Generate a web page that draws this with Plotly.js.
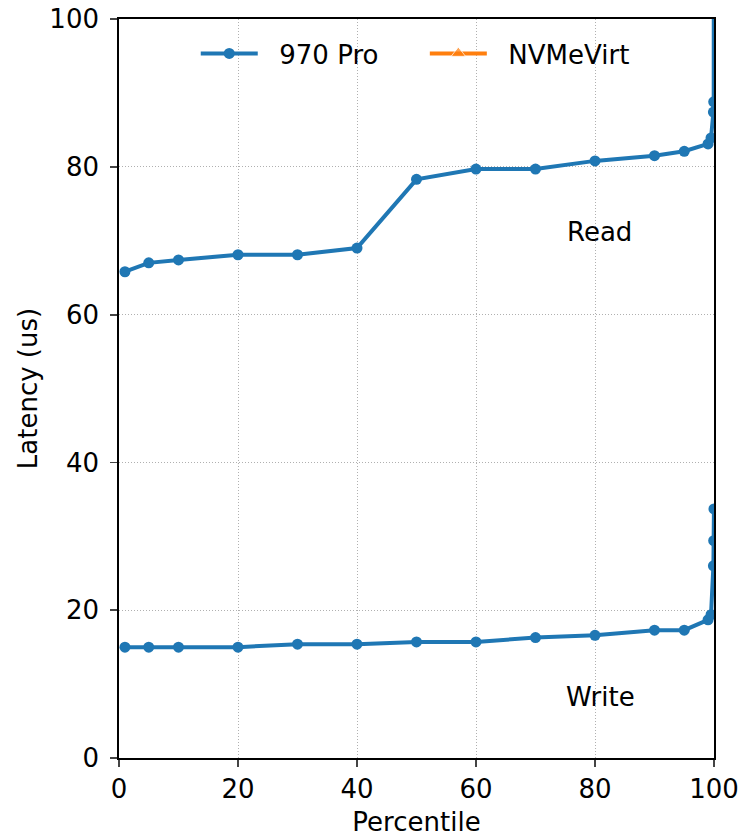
<!DOCTYPE html>
<html>
<head>
<meta charset="utf-8">
<script src="https://cdn.plot.ly/plotly-3.0.1.min.js"></script>
<style>html,body{margin:0;padding:0;background:#fff;}#chart{width:741px;height:837px;}</style>
</head>
<body>
<div id="chart"></div>
<script>
const percentiles = [1, 5, 10, 20, 30, 40, 50, 60, 70, 80, 90, 95, 99, 99.5, 99.9, 99.95, 99.99];
const readPro = [65.8, 67.0, 67.4, 68.1, 68.1, 69.0, 78.3, 79.7, 79.7, 80.8, 81.5, 82.1, 83.1, 83.9, 87.4, 88.8, 130];
const writePro = [15.0, 15.0, 15.0, 15.0, 15.4, 15.4, 15.7, 15.7, 16.3, 16.6, 17.3, 17.3, 18.7, 19.4, 26.0, 29.4, 33.7];
const nvmevirt = [];
const seriesNames = ["970 Pro", "NVMeVirt"];
const labels = {read: "Read", write: "Write"};

const blue = "#1f77b4", orange = "#ff7f0e";
const font = "DejaVu Sans, sans-serif";
const fs = 26;
const pad = "\u00a0\u00a0";

const traces = [
  {x: percentiles, y: readPro, mode: "lines+markers", name: pad + seriesNames[0], legend: "legend",
   line: {color: blue, width: 4}, marker: {color: blue, size: 11, symbol: "circle"}, cliponaxis: true},
  {x: percentiles, y: writePro, mode: "lines+markers", name: seriesNames[0], showlegend: false,
   line: {color: blue, width: 4}, marker: {color: blue, size: 11, symbol: "circle"}, cliponaxis: true},
  {x: nvmevirt.length ? percentiles : [percentiles[0]], y: nvmevirt.length ? nvmevirt : [null], mode: "lines+markers",
   name: pad + seriesNames[1], legend: "legend2",
   line: {color: orange, width: 4}, marker: {color: orange, size: [13], symbol: "triangle-up"}}
];

const legendBase = {orientation: "h", y: 0.985, yanchor: "top", xanchor: "left",
  bgcolor: "rgba(0,0,0,0)", font: {family: font, size: fs}, itemwidth: 57};

const layout = {
  width: 741, height: 837,
  margin: {l: 119, r: 27, t: 19, b: 79},
  paper_bgcolor: "#fff", plot_bgcolor: "#fff",
  font: {family: font, size: fs, color: "#000"},
  showlegend: true,
  legend: Object.assign({}, legendBase, {x: 0.129}),
  legend2: Object.assign({}, legendBase, {x: 0.514}),
  xaxis: {range: [0, 100], tickvals: [0, 20, 40, 60, 80, 100], ticks: "outside", ticklen: 7, tickwidth: 1.8,
          showline: true, linecolor: "#000", linewidth: 1.8, mirror: true,
          showgrid: true, gridcolor: "#b0b0b0", griddash: "1px,2px", gridwidth: 1, zeroline: false,
          tickfont: {size: fs}, title: {text: "Percentile", font: {size: fs}, standoff: 13}},
  yaxis: {range: [0, 100], tickvals: [0, 20, 40, 60, 80, 100], ticks: "outside", ticklen: 7, tickwidth: 1.8,
          showline: true, linecolor: "#000", linewidth: 1.8, mirror: true, ticklabelstandoff: 6,
          showgrid: true, gridcolor: "#b0b0b0", griddash: "1px,2px", gridwidth: 1, zeroline: false,
          tickfont: {size: fs}, title: {text: "Latency (us)", font: {size: fs}, standoff: 4}},
  annotations: [
    {x: 80.7, y: 71.2, xref: "x", yref: "y", text: labels.read, showarrow: false, font: {size: fs}},
    {x: 81.0, y: 8.25, xref: "x", yref: "y", text: labels.write, showarrow: false, font: {size: fs}}
  ]
};

Plotly.newPlot("chart", traces, layout, {displayModeBar: false, staticPlot: true});
</script>
</body>
</html>
